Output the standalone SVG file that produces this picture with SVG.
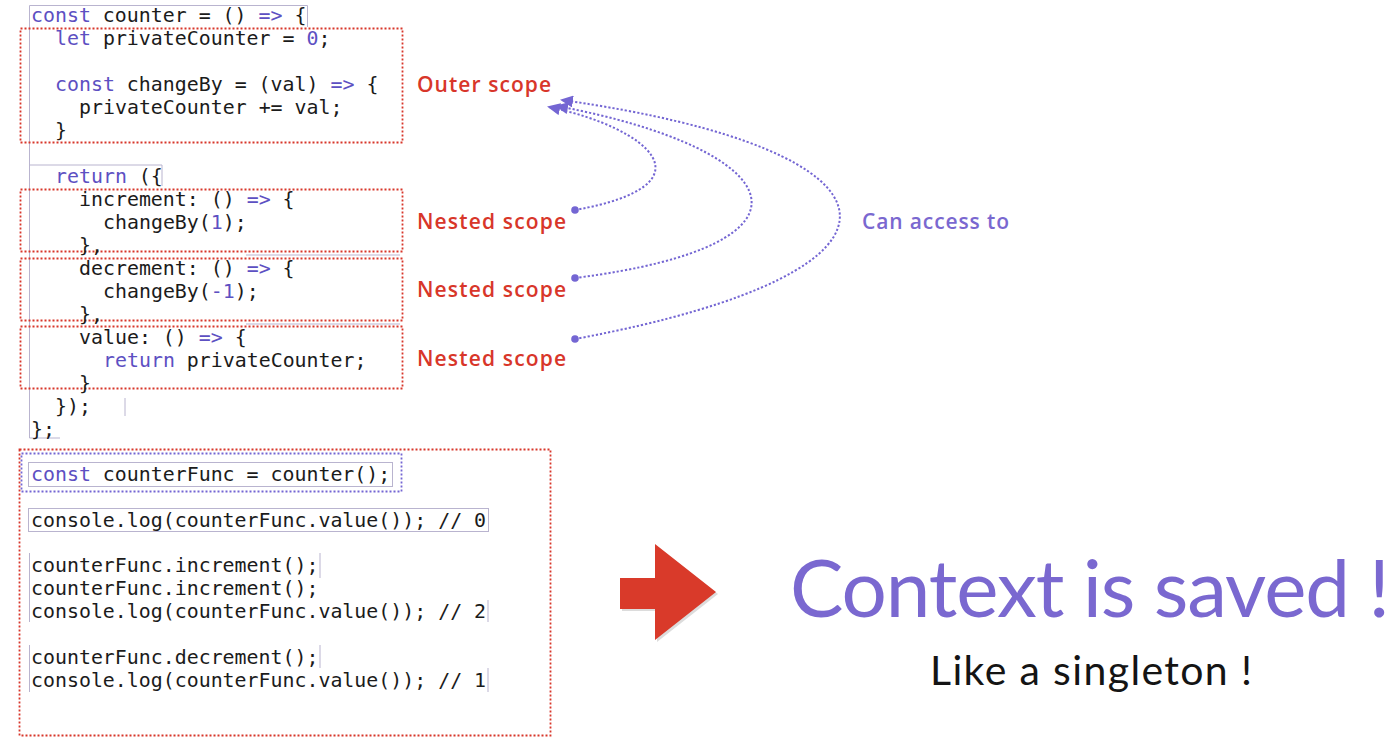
<svg xmlns="http://www.w3.org/2000/svg" width="1400" height="738" viewBox="0 0 1400 738">
<defs>
<style>
.code{font-family:"DejaVu Sans Mono","Liberation Mono",monospace;font-size:19.9px;fill:#1b1b1b;white-space:pre}
.kw{fill:#5d50c2}
.scope{fill:none;stroke:#d8362a;stroke-width:1.8;stroke-dasharray:2 2}
.call{fill:none;stroke:#7466d3;stroke-width:1.8;stroke-dasharray:2 2}
.hl{fill:none;stroke:#b9b4cf;stroke-width:1}
.lbl{font-family:"Open Sans",Lato,sans-serif;font-size:21px;font-weight:600;fill:#d8362a}
.link{fill:none;stroke:#7466d3;stroke-width:2;stroke-dasharray:2.2 2}
</style>
<marker id="dot" markerWidth="10" markerHeight="10" refX="5" refY="5" markerUnits="userSpaceOnUse"><circle cx="5" cy="5" r="3.8" fill="#7466d3"/></marker>
<marker id="arr" markerWidth="14" markerHeight="12" refX="11" refY="6" orient="auto" markerUnits="userSpaceOnUse"><path d="M0,0 L13,6 L0,12 z" fill="#7466d3"/></marker>
</defs>
<rect width="1400" height="738" fill="#ffffff"/>

<g id="code-guides">
<path class="hl" d="M29.5,28 V438 M29.5,438 H60 M29.5,28 V5.5 H307.5 V27 M29.5,165 H162 V186 M246,255 H400 M246,324 H400 M125,398 V416"/>
<rect class="hl" x="28.5" y="462.5" width="364" height="24"/>
<rect class="hl" x="28.5" y="508.5" width="460" height="23"/>
<path class="hl" d="M29.5,553 V622 M320,553 V578 M488,600 V622 M29.5,645 V692 M320,645 V668 M488,668 V692"/>
</g>

<g id="counter-code">
<text class="code" x="31" y="22"><tspan class="kw">const</tspan> counter = () <tspan class="kw">=&gt;</tspan> {</text>
</g>

<g id="outer-scope">
<rect class="scope" x="20.5" y="28.5" width="382" height="114"/>
<text class="code" x="55" y="45"><tspan class="kw">let</tspan> privateCounter = <tspan class="kw">0</tspan>;</text>
<text class="code" x="55" y="91"><tspan class="kw">const</tspan> changeBy = (val) <tspan class="kw">=&gt;</tspan> {</text>
<text class="code" x="79" y="114">privateCounter += val;</text>
<text class="code" x="55" y="137">}</text>
</g>

<g id="return-code">
<text class="code" x="55" y="183"><tspan class="kw">return</tspan> ({</text>
<text class="code" x="55" y="413">});</text>
<text class="code" x="31" y="436">};</text>
</g>

<g id="nested-increment">
<rect class="scope" x="20.5" y="189.5" width="382" height="62"/>
<text class="code" x="79" y="206">increment: () <tspan class="kw">=&gt;</tspan> {</text>
<text class="code" x="103" y="229">changeBy(<tspan class="kw">1</tspan>);</text>
<text class="code" x="79" y="252">},</text>
</g>

<g id="nested-decrement">
<rect class="scope" x="20.5" y="258.5" width="382" height="62"/>
<text class="code" x="79" y="275">decrement: () <tspan class="kw">=&gt;</tspan> {</text>
<text class="code" x="103" y="298">changeBy(<tspan class="kw">-1</tspan>);</text>
<text class="code" x="79" y="321">},</text>
</g>

<g id="nested-value">
<rect class="scope" x="20.5" y="326.5" width="382" height="62"/>
<text class="code" x="79" y="344">value: () <tspan class="kw">=&gt;</tspan> {</text>
<text class="code" x="103" y="367"><tspan class="kw">return</tspan> privateCounter;</text>
<text class="code" x="79" y="390">}</text>
</g>

<g id="usage">
<rect class="scope" x="19.5" y="449.5" width="531" height="286"/>
<rect class="call" x="21.5" y="453.5" width="380" height="38"/>
<text class="code" x="31" y="481"><tspan class="kw">const</tspan> counterFunc = counter();</text>
<text class="code" x="31" y="527">console.log(counterFunc.value()); // 0</text>
<text class="code" x="31" y="572">counterFunc.increment();</text>
<text class="code" x="31" y="595">counterFunc.increment();</text>
<text class="code" x="31" y="618">console.log(counterFunc.value()); // 2</text>
<text class="code" x="31" y="664">counterFunc.decrement();</text>
<text class="code" x="31" y="687">console.log(counterFunc.value()); // 1</text>
</g>

<g id="labels">
<text class="lbl" x="417" y="92" textLength="134">Outer scope</text>
<text class="lbl" x="417" y="229" textLength="149">Nested scope</text>
<text class="lbl" x="417" y="297" textLength="149">Nested scope</text>
<text class="lbl" x="417" y="366" textLength="149">Nested scope</text>
<text x="862" y="229" font-family="'Open Sans',Lato,sans-serif" font-size="21" font-weight="600" fill="#7a68d0" textLength="147">Can access to</text>
</g>

<g id="connectors">
<path class="link" d="M575,210 C715,185 650,128 549,107" marker-start="url(#dot)" marker-end="url(#arr)"/>
<path class="link" d="M575,278 C835,245 790,150 557,106" marker-start="url(#dot)" marker-end="url(#arr)"/>
<path class="link" d="M575,339 C945,270 915,150 562,100" marker-start="url(#dot)" marker-end="url(#arr)"/>
</g>

<g id="result-arrow">
<path d="M622,580 H657 V546 L718,594 L657,642 V611 H622 Z" fill="#9a9a9a" opacity="0.35"/>
<path d="M620,578 H655 V544 L716,592 L655,640 V609 H620 Z" fill="#d93a2a"/>
</g>

<g id="conclusion">
<text x="790" y="617" font-family="Lato,'Open Sans',sans-serif" font-size="80" fill="#7a68d0" textLength="600">Context is saved !</text>
<text x="930" y="685" font-family="Lato,'Open Sans',sans-serif" font-size="41" fill="#141414" textLength="322">Like a singleton !</text>
</g>
</svg>
